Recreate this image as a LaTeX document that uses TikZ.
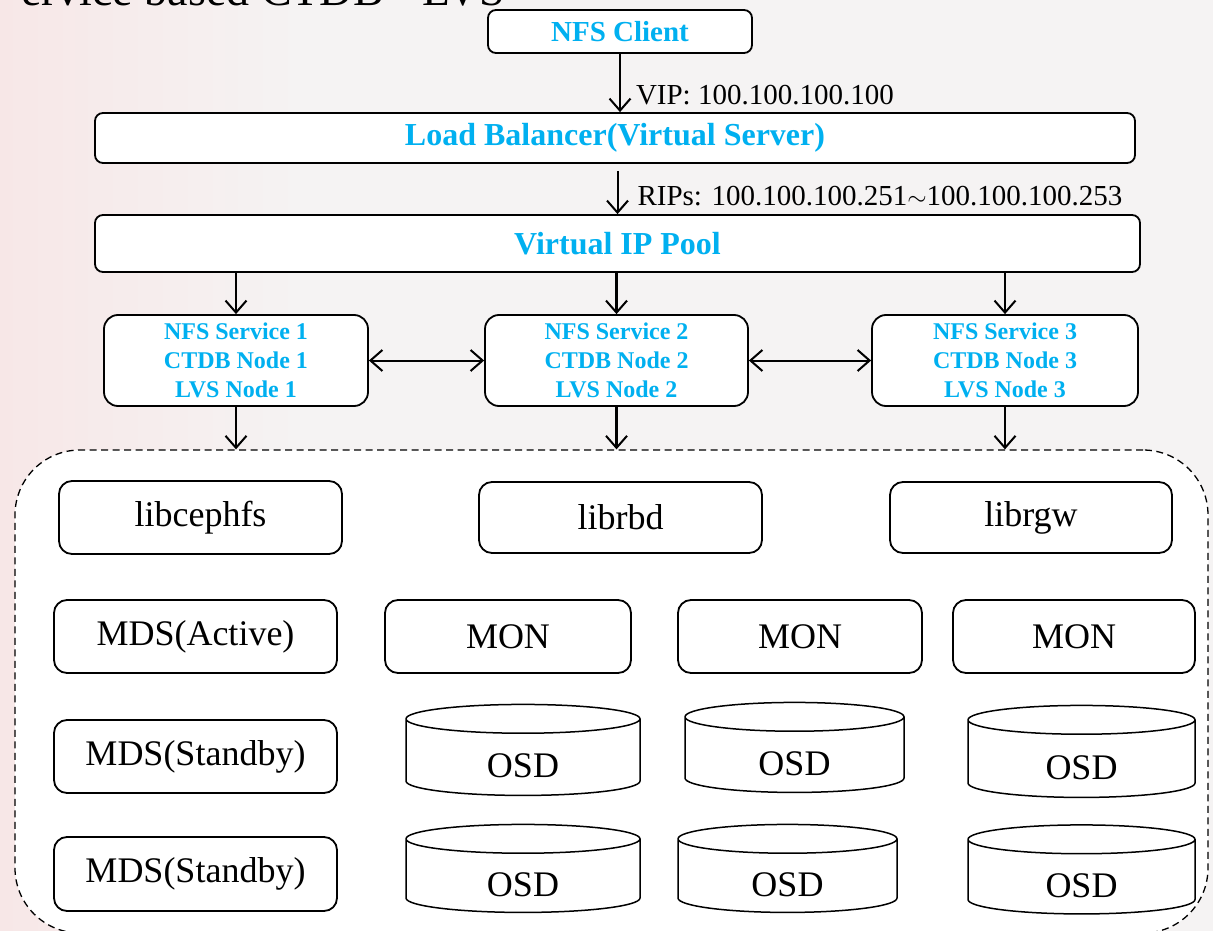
\documentclass[tikz,border=0pt]{standalone}
\usepackage{fontspec}
\setmainfont{Liberation Serif}
\usepackage{tikz}
\usetikzlibrary{positioning, shapes, arrows.meta, calc, shapes.geometric}

\definecolor{nfsblue}{HTML}{00B0F0}
\definecolor{bgpink}{RGB}{247,231,231}
\definecolor{bggray}{RGB}{245,243,243}
\newcommand{\fsz}[2]{\fontsize{#1}{#2}\selectfont}
\newcommand{\osdtext}{\raisebox{-20pt}[0pt][0pt]{OSD}}

\begin{document}
\begin{tikzpicture}[x=1pt, y=-1pt, >={Straight Barb[length=12pt,width=21pt,line width=2pt]},
        every node/.style={inner sep=0pt},
        bluebox/.style={draw, rectangle, rounded corners=8pt, line width=1.8pt, fill=white, text=nfsblue, font=\bfseries\fsz{32}{38}},
        svcbox/.style={draw, rectangle, rounded corners=14pt, line width=1.8pt, fill=white, text=nfsblue, align=center, font=\bfseries\fsz{24}{29}, minimum width=264pt, minimum height=91pt},
        cephbox/.style={draw, rectangle, rounded corners=13pt, line width=1.8pt, fill=white, font=\fsz{36}{40}, minimum height=73pt},
        osd/.style={draw, cylinder, shape border rotate=90, aspect=0.4, line width=1.5pt, fill=white, font=\fsz{36}{40}},
        lbl/.style={anchor=west, font=\fsz{29}{32}},
        conn/.style={->, line width=2pt}]
      \useasboundingbox (0,0) rectangle (1213,931);
      % Slide background
      \fill[bggray] (0,0) rectangle (1213,931);
      \shade[left color=bgpink, right color=bggray] (0,0) rectangle (300,931);
      \node[anchor=base east, font=\fsz{46}{50}] (title) at (505,6) {ervice based CTDB - LVS};

      % Client and load balancer
      \node[bluebox, minimum width=264pt, minimum height=43pt, font=\bfseries\fsz{29}{34}] (client) at (620,31.5) {NFS Client};
      \node[bluebox, minimum width=1040pt, minimum height=50pt] (lb) at (615,138) {Load Balancer(Virtual Server)};
      \node[bluebox, minimum width=1045pt, minimum height=57pt] (pool) at (617.5,243.5) {Virtual IP Pool};

      \draw[conn] (client.south) -- node[lbl, pos=0.7, xshift=15pt] (vip) {VIP: 100.100.100.100} (client.south |- lb.north);
      \draw[conn, shorten <=7pt] (pool.north |- lb.south) -- node[lbl, pos=0.64, xshift=19pt] (rips) {RIPs: 100.100.100.251$\sim$100.100.100.253} (pool.north);

      % NFS services
      \node[svcbox] (s1) at (236,360.5) {NFS Service 1\\CTDB Node 1\\LVS Node 1};
      \node[svcbox, minimum width=263pt] (s2) at (616.5,360.5) {NFS Service 2\\CTDB Node 2\\LVS Node 2};
      \node[svcbox, minimum width=266pt] (s3) at (1005,360.5) {NFS Service 3\\CTDB Node 3\\LVS Node 3};

      \draw[conn] (pool.south -| s1) -- (s1);
      \draw[conn, line width=2.6pt] (pool.south -| s2) -- (s2);
      \draw[conn] (pool.south -| s3) -- (s3);
      \draw[conn, <->] (s1) -- (s2);
      \draw[conn, <->] (s2) -- (s3);

      % Ceph cluster (dashed)
      \node[draw, rectangle, dashed, dash pattern=on 7pt off 4.5pt, rounded corners=65pt, line width=1.3pt, fill=white, minimum width=1193pt, minimum height=483pt] (ceph) at (611.5,691.5) {};
      \draw[conn] (s1) -- (s1 |- ceph.north);
      \draw[conn, line width=2.4pt] (s2) -- (s2 |- ceph.north);
      \draw[conn] (s3) -- (s3 |- ceph.north);

      \node[cephbox, minimum width=283pt] (libcephfs) at (200.5,517.5) {libcephfs};
      \node[cephbox, minimum width=283pt, minimum height=71pt] (librbd) at (620.5,517.5) {librbd};
      \node[cephbox, minimum width=282pt, minimum height=71pt] (librgw) at (1031,517.5) {librgw};

      \node[cephbox, minimum width=283pt] (mdsA) at (195.5,636.5) {MDS(Active)};
      \node[cephbox, minimum width=246pt] (mon1) at (508,636.5) {MON};
      \node[cephbox, minimum width=244pt] (mon2) at (800,636.5) {MON};
      \node[cephbox, minimum width=242pt] (mon3) at (1074,636.5) {MON};

      \node[cephbox, minimum width=283pt] (mdsS1) at (195.5,756.5) {MDS(Standby)};
      \node[osd, minimum width=234pt, minimum height=91pt] (osd1) at (523,757.5) {\osdtext};
      \node[osd, minimum width=219pt, minimum height=90pt] (osd2) at (794.5,755) {\osdtext};
      \node[osd, minimum width=227pt, minimum height=92pt] (osd3) at (1081.5,759) {\osdtext};

      \node[cephbox, minimum width=283pt, minimum height=74pt] (mdsS2) at (195.5,874) {MDS(Standby)};
      \node[osd, minimum width=234pt, minimum height=88pt] (osd4) at (523,876) {\osdtext};
      \node[osd, minimum width=219pt, minimum height=88pt] (osd5) at (787.5,876) {\osdtext};
      \node[osd, minimum width=227pt, minimum height=89pt] (osd6) at (1081.5,877) {\osdtext};
    \end{tikzpicture}
\end{document}
